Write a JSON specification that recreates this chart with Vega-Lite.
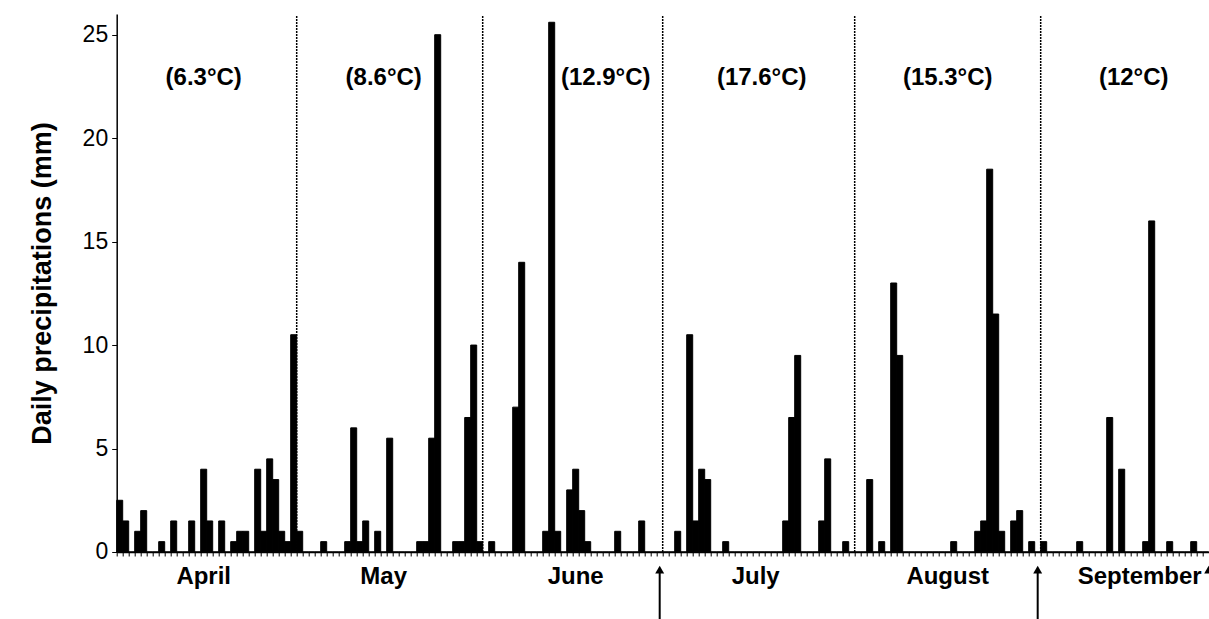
{
  "$schema": "https://vega.github.io/schema/vega-lite/v6.json",
  "width": 1092,
  "height": 538,
  "autosize": {"type": "none"},
  "padding": {"left": 116.7, "top": 14, "right": 0, "bottom": 67},
  "background": "white",
  "config": {
    "view": {"stroke": null},
    "font": "Liberation Sans",
    "axis": {"grid": false, "domainColor": "black", "tickColor": "black", "labelColor": "black", "titleColor": "black"}
  },
  "datasets": {
    "rain": [
      {"day":1,"mm":2.5},{"day":2,"mm":1.5},{"day":3,"mm":0},{"day":4,"mm":1},{"day":5,"mm":2},{"day":6,"mm":0},{"day":7,"mm":0},{"day":8,"mm":0.5},{"day":9,"mm":0},{"day":10,"mm":1.5},
      {"day":11,"mm":0},{"day":12,"mm":0},{"day":13,"mm":1.5},{"day":14,"mm":0},{"day":15,"mm":4},{"day":16,"mm":1.5},{"day":17,"mm":0},{"day":18,"mm":1.5},{"day":19,"mm":0},{"day":20,"mm":0.5},
      {"day":21,"mm":1},{"day":22,"mm":1},{"day":23,"mm":0},{"day":24,"mm":4},{"day":25,"mm":1},{"day":26,"mm":4.5},{"day":27,"mm":3.5},{"day":28,"mm":1},{"day":29,"mm":0.5},{"day":30,"mm":10.5},
      {"day":31,"mm":1},{"day":32,"mm":0},{"day":33,"mm":0},{"day":34,"mm":0},{"day":35,"mm":0.5},{"day":36,"mm":0},{"day":37,"mm":0},{"day":38,"mm":0},{"day":39,"mm":0.5},{"day":40,"mm":6},
      {"day":41,"mm":0.5},{"day":42,"mm":1.5},{"day":43,"mm":0},{"day":44,"mm":1},{"day":45,"mm":0},{"day":46,"mm":5.5},{"day":47,"mm":0},{"day":48,"mm":0},{"day":49,"mm":0},{"day":50,"mm":0},
      {"day":51,"mm":0.5},{"day":52,"mm":0.5},{"day":53,"mm":5.5},{"day":54,"mm":25},{"day":55,"mm":0},{"day":56,"mm":0},{"day":57,"mm":0.5},{"day":58,"mm":0.5},{"day":59,"mm":6.5},{"day":60,"mm":10},
      {"day":61,"mm":0.5},{"day":62,"mm":0},{"day":63,"mm":0.5},{"day":64,"mm":0},{"day":65,"mm":0},{"day":66,"mm":0},{"day":67,"mm":7},{"day":68,"mm":14},{"day":69,"mm":0},{"day":70,"mm":0},
      {"day":71,"mm":0},{"day":72,"mm":1},{"day":73,"mm":25.6},{"day":74,"mm":1},{"day":75,"mm":0},{"day":76,"mm":3},{"day":77,"mm":4},{"day":78,"mm":2},{"day":79,"mm":0.5},{"day":80,"mm":0},
      {"day":81,"mm":0},{"day":82,"mm":0},{"day":83,"mm":0},{"day":84,"mm":1},{"day":85,"mm":0},{"day":86,"mm":0},{"day":87,"mm":0},{"day":88,"mm":1.5},{"day":89,"mm":0},{"day":90,"mm":0},
      {"day":91,"mm":0},{"day":92,"mm":0},{"day":93,"mm":0},{"day":94,"mm":1},{"day":95,"mm":0},{"day":96,"mm":10.5},{"day":97,"mm":1.5},{"day":98,"mm":4},{"day":99,"mm":3.5},{"day":100,"mm":0},
      {"day":101,"mm":0},{"day":102,"mm":0.5},{"day":103,"mm":0},{"day":104,"mm":0},{"day":105,"mm":0},{"day":106,"mm":0},{"day":107,"mm":0},{"day":108,"mm":0},{"day":109,"mm":0},{"day":110,"mm":0},
      {"day":111,"mm":0},{"day":112,"mm":1.5},{"day":113,"mm":6.5},{"day":114,"mm":9.5},{"day":115,"mm":0},{"day":116,"mm":0},{"day":117,"mm":0},{"day":118,"mm":1.5},{"day":119,"mm":4.5},{"day":120,"mm":0},
      {"day":121,"mm":0},{"day":122,"mm":0.5},{"day":123,"mm":0},{"day":124,"mm":0},{"day":125,"mm":0},{"day":126,"mm":3.5},{"day":127,"mm":0},{"day":128,"mm":0.5},{"day":129,"mm":0},{"day":130,"mm":13},
      {"day":131,"mm":9.5},{"day":132,"mm":0},{"day":133,"mm":0},{"day":134,"mm":0},{"day":135,"mm":0},{"day":136,"mm":0},{"day":137,"mm":0},{"day":138,"mm":0},{"day":139,"mm":0},{"day":140,"mm":0.5},
      {"day":141,"mm":0},{"day":142,"mm":0},{"day":143,"mm":0},{"day":144,"mm":1},{"day":145,"mm":1.5},{"day":146,"mm":18.5},{"day":147,"mm":11.5},{"day":148,"mm":1},{"day":149,"mm":0},{"day":150,"mm":1.5},
      {"day":151,"mm":2},{"day":152,"mm":0},{"day":153,"mm":0.5},{"day":154,"mm":0},{"day":155,"mm":0.5},{"day":156,"mm":0},{"day":157,"mm":0},{"day":158,"mm":0},{"day":159,"mm":0},{"day":160,"mm":0},
      {"day":161,"mm":0.5},{"day":162,"mm":0},{"day":163,"mm":0},{"day":164,"mm":0},{"day":165,"mm":0},{"day":166,"mm":6.5},{"day":167,"mm":0},{"day":168,"mm":4},{"day":169,"mm":0},{"day":170,"mm":0},
      {"day":171,"mm":0},{"day":172,"mm":0.5},{"day":173,"mm":16},{"day":174,"mm":0},{"day":175,"mm":0},{"day":176,"mm":0.5},{"day":177,"mm":0},{"day":178,"mm":0},{"day":179,"mm":0},{"day":180,"mm":0.5},
      {"day":181,"mm":0},{"day":182,"mm":0}
    ],
    "dividers": [{"day":30},{"day":61},{"day":91},{"day":123},{"day":154}],
    "temps": [
      {"day":15,"label":"(6.3°C)"},{"day":45,"label":"(8.6°C)"},{"day":82,"label":"(12.9°C)"},
      {"day":108,"label":"(17.6°C)"},{"day":139,"label":"(15.3°C)"},{"day":170,"label":"(12°C)"}
    ],
    "months": [
      {"day":15,"label":"April"},{"day":45,"label":"May"},{"day":77,"label":"June"},
      {"day":107,"label":"July"},{"day":139,"label":"August"},{"day":171,"label":"September"}
    ],
    "arrows": [{"day":91},{"day":154}],
    "edgeArrow": [{"day":182}]
  },
  "layer": [
    {
      "data": {"name": "rain"},
      "mark": {"type": "bar", "color": "black", "stroke": "black", "strokeWidth": 1},
      "encoding": {
        "x": {"field": "day", "type": "ordinal", "scale": {"paddingInner": 0, "paddingOuter": 0},
              "axis": {"bandPosition": 0, "labels": false, "title": null, "tickSize": 4, "domainWidth": 1.5}},
        "y": {"field": "mm", "type": "quantitative", "scale": {"domain": [0, 26], "nice": false},
              "axis": {"values": [0, 5, 10, 15, 20, 25], "title": "Daily precipitations (mm)", "titleFontSize": 27,
                       "titleFontWeight": "bold", "labelFontSize": 23, "tickSize": 5, "labelPadding": 4,
                       "titlePadding": 26, "domainWidth": 1.5}}
      }
    },
    {
      "mark": {"type": "rule", "color": "#808080", "strokeWidth": 1.5},
      "encoding": {"y": {"datum": 26}}
    },
    {
      "data": {"name": "dividers"},
      "mark": {"type": "rule", "color": "black", "strokeWidth": 1.5, "strokeDash": [2, 1]},
      "encoding": {
        "x": {"field": "day", "type": "ordinal", "bandPosition": 1},
        "y": {"datum": 0},
        "y2": {"datum": 25.9}
      }
    },
    {
      "data": {"name": "temps"},
      "mark": {"type": "text", "fontSize": 24, "fontWeight": "bold", "color": "black", "baseline": "middle"},
      "encoding": {
        "x": {"field": "day", "type": "ordinal"},
        "y": {"datum": 22.9},
        "text": {"field": "label"}
      }
    },
    {
      "data": {"name": "months"},
      "mark": {"type": "text", "fontSize": 24, "fontWeight": "bold", "color": "black", "baseline": "middle"},
      "encoding": {
        "x": {"field": "day", "type": "ordinal"},
        "y": {"datum": -1.2},
        "text": {"field": "label"}
      }
    },
    {
      "data": {"name": "arrows"},
      "mark": {"type": "rule", "color": "black", "strokeWidth": 2},
      "encoding": {
        "x": {"field": "day", "type": "ordinal"},
        "y": {"datum": -1.0},
        "y2": {"datum": -3.5}
      }
    },
    {
      "data": {"name": "arrows"},
      "mark": {"type": "point", "shape": "triangle-up", "filled": true, "size": 80, "color": "black", "opacity": 1},
      "encoding": {
        "x": {"field": "day", "type": "ordinal"},
        "y": {"datum": -0.85}
      }
    },
    {
      "data": {"name": "edgeArrow"},
      "mark": {"type": "point", "shape": "triangle-up", "filled": true, "size": 80, "color": "black", "opacity": 1},
      "encoding": {
        "x": {"field": "day", "type": "ordinal", "bandPosition": 1},
        "y": {"datum": -0.85}
      }
    }
  ]
}
